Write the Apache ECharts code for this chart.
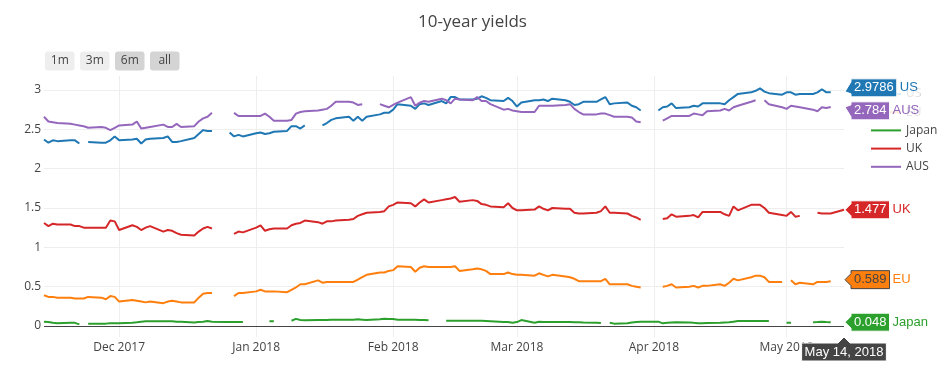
<!DOCTYPE html>
<html><head><meta charset="utf-8">
<script src="https://cdn.jsdelivr.net/npm/echarts@6/dist/echarts.min.js"></script>
<style>html,body{margin:0;padding:0;background:#fff}#c{width:945px;height:368px}</style>
</head><body><div id="c"></div>
<script>
const chartTitle = '10-year yields';
const dates = [
'2017-11-14','2017-11-15','2017-11-16','2017-11-17',
'2017-11-20','2017-11-21','2017-11-22','2017-11-23','2017-11-24',
'2017-11-27','2017-11-28','2017-11-29','2017-11-30','2017-12-01',
'2017-12-04','2017-12-05','2017-12-06','2017-12-07','2017-12-08',
'2017-12-11','2017-12-12','2017-12-13','2017-12-14','2017-12-15',
'2017-12-18','2017-12-19','2017-12-20','2017-12-21','2017-12-22',
'2017-12-25','2017-12-26','2017-12-27','2017-12-28','2017-12-29',
'2018-01-01','2018-01-02','2018-01-03','2018-01-04','2018-01-05',
'2018-01-08','2018-01-09','2018-01-10','2018-01-11','2018-01-12',
'2018-01-15','2018-01-16','2018-01-17','2018-01-18','2018-01-19',
'2018-01-22','2018-01-23','2018-01-24','2018-01-25','2018-01-26',
'2018-01-29','2018-01-30','2018-01-31','2018-02-01','2018-02-02',
'2018-02-05','2018-02-06','2018-02-07','2018-02-08','2018-02-09',
'2018-02-12','2018-02-13','2018-02-14','2018-02-15','2018-02-16',
'2018-02-19','2018-02-20','2018-02-21','2018-02-22','2018-02-23',
'2018-02-26','2018-02-27','2018-02-28','2018-03-01','2018-03-02',
'2018-03-05','2018-03-06','2018-03-07','2018-03-08','2018-03-09',
'2018-03-12','2018-03-13','2018-03-14','2018-03-15','2018-03-16',
'2018-03-19','2018-03-20','2018-03-21','2018-03-22','2018-03-23',
'2018-03-26','2018-03-27','2018-03-28','2018-03-29','2018-03-30',
'2018-04-02','2018-04-03','2018-04-04','2018-04-05','2018-04-06',
'2018-04-09','2018-04-10','2018-04-11','2018-04-12','2018-04-13',
'2018-04-16','2018-04-17','2018-04-18','2018-04-19','2018-04-20',
'2018-04-23','2018-04-24','2018-04-25','2018-04-26','2018-04-27',
'2018-04-30','2018-05-01','2018-05-02','2018-05-03','2018-05-04',
'2018-05-07','2018-05-08','2018-05-09','2018-05-10','2018-05-11',
'2018-05-14'];

const US = [
2.37,2.33,2.36,2.35,
2.36,2.36,2.32,null,2.34,
2.33,2.33,2.36,2.41,2.36,
2.37,2.38,2.32,2.37,2.38,
2.39,2.41,2.34,2.34,2.35,
2.39,2.44,2.49,2.48,2.48,
null,2.46,2.41,2.43,2.41,
2.45,2.46,2.44,2.45,2.47,
2.48,2.54,2.54,2.51,2.55,
null,2.55,2.58,2.62,2.64,
2.66,2.61,2.66,2.61,2.66,
2.69,2.71,2.71,2.75,2.82,
2.80,2.76,2.82,2.83,2.81,
2.86,2.83,2.91,2.91,2.88,
2.88,2.89,2.92,2.90,2.87,
2.86,2.90,2.86,2.79,2.84,
2.87,2.87,2.88,2.86,2.89,
2.87,2.85,2.81,2.82,2.85,
2.85,2.88,2.91,2.82,2.83,
2.84,2.80,2.78,2.74,null,
2.74,2.78,2.79,2.83,2.77,
2.78,2.80,2.79,2.83,2.83,
2.83,2.82,2.87,2.91,2.95,
2.97,2.99,3.02,2.98,2.96,
2.94,2.97,2.97,2.94,2.95,
2.95,2.97,3.01,2.97,2.97,
null];

const EU = [
0.39,0.37,0.37,0.36,
0.36,0.35,0.35,0.35,0.37,
0.36,0.34,0.38,0.37,0.31,
0.33,0.32,0.31,0.30,0.31,
0.29,0.31,0.32,0.31,0.30,
0.30,0.36,0.41,0.42,0.42,
null,null,0.38,0.42,0.42,
0.44,0.46,0.44,0.44,0.44,
0.43,0.46,0.49,0.53,0.53,
0.58,0.55,0.56,0.56,0.56,
0.56,0.56,0.59,0.62,0.65,
0.68,0.68,0.70,0.71,0.76,
0.75,0.69,0.74,0.76,0.75,
0.75,0.75,0.75,0.76,0.70,
0.72,0.73,0.72,0.70,0.66,
0.66,0.68,0.66,0.65,0.65,
0.64,0.67,0.65,0.63,0.65,
0.63,0.62,0.60,0.57,0.57,
0.57,0.57,0.60,0.53,0.53,
0.53,0.51,0.50,0.49,null,
null,0.50,0.51,0.53,0.49,
0.50,0.51,0.49,0.51,0.51,
0.53,0.51,0.55,0.60,0.58,
0.62,0.64,0.64,0.62,0.56,
0.56,null,0.58,0.53,0.55,
0.53,0.56,0.56,0.56,0.57,
null];

const Japan = [
0.055,0.05,0.04,0.035,
0.04,0.04,0.02,null,0.03,
0.03,0.03,0.035,0.035,0.035,
0.04,0.047,0.055,0.06,0.06,
0.06,0.06,0.06,0.055,0.055,
0.045,0.05,0.055,0.063,0.055,
0.05,0.05,0.05,0.05,0.05,
null,null,null,0.06,0.06,
null,0.067,0.09,0.075,0.072,
0.075,0.075,0.075,0.078,0.08,
0.08,0.08,0.085,0.08,0.075,
0.085,0.093,0.09,0.09,0.08,
0.08,0.08,0.075,0.075,0.072,
null,0.067,0.066,0.066,0.065,
0.065,0.065,0.065,0.063,0.06,
0.05,0.05,0.042,0.05,0.075,
0.042,0.055,0.05,0.05,0.05,
0.05,0.05,0.047,0.047,0.045,
0.042,0.038,null,0.04,0.03,
0.035,0.045,0.05,0.055,0.055,
0.055,0.034,0.04,0.045,0.047,
0.045,0.04,0.036,0.034,0.038,
0.04,0.045,0.047,0.055,0.063,
0.063,0.063,0.063,0.063,0.063,
null,0.04,0.04,null,null,
0.047,0.05,0.055,0.05,0.048,
null];

const UK = [
1.31,1.27,1.30,1.29,
1.29,1.27,1.27,1.25,1.25,
1.25,1.25,1.34,1.33,1.22,
1.28,1.26,1.22,1.25,1.27,
1.20,1.22,1.21,1.18,1.16,
1.15,1.20,1.24,1.26,1.24,
null,null,1.17,1.20,1.19,
1.25,1.28,1.21,1.23,1.24,
1.24,1.28,1.30,1.31,1.34,
1.32,1.30,1.33,1.33,1.34,
1.35,1.36,1.40,1.42,1.44,
1.45,1.46,1.52,1.54,1.57,
1.56,1.52,1.57,1.61,1.57,
1.60,1.61,1.62,1.64,1.58,
1.60,1.59,1.55,1.54,1.52,
1.51,1.56,1.50,1.47,1.47,
1.48,1.52,1.49,1.47,1.50,
1.49,1.49,1.44,1.43,1.43,
1.44,1.46,1.52,1.44,1.44,
1.43,1.40,1.38,1.35,null,
null,1.36,1.37,1.42,1.39,
1.40,1.41,1.38,1.45,1.45,
1.45,1.42,1.40,1.52,1.47,
1.54,1.54,1.54,1.50,1.44,
1.41,1.40,1.45,1.39,1.40,
null,1.44,1.43,1.43,1.43,
1.477];

const AUS = [
2.66,2.60,2.59,2.58,
2.57,2.56,2.55,2.54,2.52,
2.53,2.52,2.49,2.52,2.55,
2.56,2.60,2.51,2.52,2.53,
2.56,2.53,2.53,2.57,2.53,
2.54,2.60,2.64,2.66,2.71,
null,null,2.71,2.67,2.67,
2.67,2.67,2.70,2.66,2.61,
2.61,2.62,2.70,2.72,2.73,
2.74,2.75,2.76,2.80,2.85,
2.85,2.84,2.81,2.82,null,
2.82,2.80,2.78,2.81,2.84,
2.91,2.80,2.84,2.86,2.85,
2.89,2.87,2.83,2.89,2.88,
2.87,2.91,2.86,2.86,2.82,
2.75,2.76,2.74,2.73,2.72,
2.72,2.80,2.80,2.80,2.80,
2.81,2.82,2.76,2.72,2.69,
2.69,2.70,2.70,2.68,2.66,
2.66,2.65,2.60,2.59,null,
null,2.61,2.64,2.67,2.67,
2.67,2.70,2.69,2.68,2.73,
2.74,2.76,2.74,2.78,2.80,
2.85,2.87,null,2.87,2.82,
2.78,2.76,2.80,2.79,2.78,
2.75,2.73,2.78,2.77,2.784,
null];

const seriesNames = ['US','EU','Japan','UK','AUS'];
const seriesValues = [US, EU, Japan, UK, AUS];
const colors = ['#1f77b4','#ff7f0e','#2ca02c','#d62728','#9467bd'];
const hoverDate = '2018-05-14';
const hoverDateText = 'May 14, 2018';
const hoverValues = [2.9786, 0.589, 0.048, 1.477, 2.784];
const hoverTexts = ['2.9786','0.589','0.048','1.477','2.784'];
const rangeButtons = ['1m','3m','6m','all'];
const activeButtons = ['6m','all'];
const monthNames = ['Jan','Feb','Mar','Apr','May','Jun','Jul','Aug','Sep','Oct','Nov','Dec'];

const chart = echarts.init(document.getElementById('c'), null, {renderer:'canvas'});
const FONT = '"Open Sans", sans-serif';

const series = seriesNames.map((n, k) => {
  const s = {
    type: 'line', name: n,
    data: dates.map((d, i) => [d, seriesValues[k][i]]),
    showSymbol: false, symbol: 'none', connectNulls: false,
    lineStyle: { width: 2, color: colors[k] },
    itemStyle: { color: colors[k] },
    emphasis: { disabled: true },
    animation: false,
    z: 2 + k * 0.01
  };
  if (k === 0) {
    s.markLine = {
      silent: true, symbol: ['none','none'], label: { show: false },
      lineStyle: { color: '#444', width: 1, type: 'solid' },
      emphasis: { disabled: true },
      data: [{ yAxis: 0 }], animation: false
    };
  }
  return s;
});

chart.setOption({
  animation: false,
  title: {
    text: chartTitle, left: 'center', top: 9,
    textStyle: { fontSize: 17, fontWeight: 'normal', color: '#444', fontFamily: FONT }
  },
  legend: {
    data: seriesNames, orient: 'vertical', left: 866, top: 80,
    icon: 'rect', itemWidth: 30, itemHeight: 2, itemGap: 0.2,
    selectedMode: false,
    textStyle: { color: '#444', fontSize: 12, fontFamily: FONT, lineHeight: 18 }
  },
  grid: { left: 44, right: 101, top: 76, bottom: 31, containLabel: false },
  xAxis: {
    type: 'time', min: dates[0], max: hoverDate,
    splitNumber: 6, minInterval: 28 * 864e5, maxInterval: 31 * 864e5,
    axisLine: { show: false }, axisTick: { show: false },
    axisLabel: {
      color: '#444', fontSize: 12, fontFamily: FONT, margin: 5,
      showMinLabel: false, showMaxLabel: false, hideOverlap: false,
      formatter: v => { const d = new Date(v); return monthNames[d.getMonth()] + ' ' + d.getFullYear(); }
    },
    splitLine: { show: true, showMinLine: false, showMaxLine: false, lineStyle: { color: '#eee', width: 1 } }
  },
  yAxis: {
    type: 'value', min: -0.14, max: 3.178, splitNumber: 7,
    axisLine: { show: false }, axisTick: { show: false },
    axisLabel: { color: '#444', fontSize: 12, fontFamily: FONT, margin: 3, showMinLabel: false, showMaxLabel: false },
    splitLine: { show: true, showMinLine: false, showMaxLine: false, lineStyle: { color: '#eee', width: 1 } }
  },
  series: series
});

// overlay: range selector buttons and hover labels
const ctx = document.createElement('canvas').getContext('2d');
function textW(t, font) { ctx.font = font; return ctx.measureText(t).width; }
const HFONT = '13px Arial';
const g = [];
rangeButtons.forEach((b, i) => {
  const x = 45 + i * 35;
  g.push({ type: 'rect', z: 100, silent: true,
    shape: { x: x, y: 51.5, width: 29.5, height: 19, r: 3 },
    style: { fill: activeButtons.includes(b) ? '#d4d4d4' : '#eeeeee' } });
  g.push({ type: 'text', z: 101, silent: true,
    style: { x: x + 14.75, y: 61, text: b, fill: '#444', fontSize: 12, fontFamily: FONT, align: 'center', verticalAlign: 'middle' } });
});

const H = 18, GAP = 23;
const labels = seriesNames.map((n, k) => {
  const p = chart.convertToPixel({ gridIndex: 0 }, [hoverDate, hoverValues[k]]);
  return { k: k, x: p[0], y: p[1], yc: p[1] };
}).sort((a, b) => a.y - b.y);
for (let it = 0; it < 20; it++) {
  for (let i = 1; i < labels.length; i++) {
    const d = labels[i].yc - labels[i - 1].yc;
    if (d < GAP) { const o = (GAP - d) / 2; labels[i - 1].yc -= o; labels[i].yc += o; }
  }
}
labels.forEach(L => {
  const k = L.k;
  const dark = k !== 1;
  const tip = L.x + 1;
  const bx = tip + 6;
  const tw = textW(hoverTexts[k], HFONT);
  const w = tw + 6;
  const top = L.yc - H / 2, bot = L.yc + H / 2;
  const nw = textW(seriesNames[k], HFONT) + 6;
  g.push({ type: 'rect', z: 100, silent: true,
    shape: { x: bx + w, y: top, width: nw, height: H + 2 },
    style: { fill: 'rgba(255,255,255,0.85)' } });
  g.push({ type: 'polygon', z: 101, silent: true,
    shape: { points: [[tip, L.y], [bx, Math.max(top, L.yc - 6)], [bx, top], [bx + w, top], [bx + w, bot], [bx, bot], [bx, Math.min(bot, L.yc + 6)]] },
    style: { fill: colors[k], stroke: dark ? '#fff' : '#444', lineWidth: 1 } });
  g.push({ type: 'text', z: 102, silent: true,
    style: { x: bx + w / 2, y: L.yc, text: hoverTexts[k], fill: dark ? '#fff' : '#444', font: HFONT, align: 'center', verticalAlign: 'middle' } });
  g.push({ type: 'text', z: 102, silent: true,
    style: { x: bx + w + 3, y: L.yc, text: seriesNames[k], fill: colors[k], font: HFONT, align: 'left', verticalAlign: 'middle' } });
});

// date hover label on x axis
const px = chart.convertToPixel({ gridIndex: 0 }, [hoverDate, 0])[0];
const py = 368 - 31;
const dw = textW(hoverDateText, HFONT) + 6;
const dTop = py + 6;
g.push({ type: 'polygon', z: 103, silent: true,
  shape: { points: [[px, py], [px + 6, dTop], [px + dw / 2, dTop], [px + dw / 2, dTop + H], [px - dw / 2, dTop + H], [px - dw / 2, dTop], [px - 6, dTop]] },
  style: { fill: '#444', stroke: '#fff', lineWidth: 1 } });
g.push({ type: 'text', z: 104, silent: true,
  style: { x: px, y: dTop + H / 2, text: hoverDateText, fill: '#fff', font: HFONT, align: 'center', verticalAlign: 'middle' } });

chart.setOption({ graphic: { elements: g } });
</script>
</body></html>
